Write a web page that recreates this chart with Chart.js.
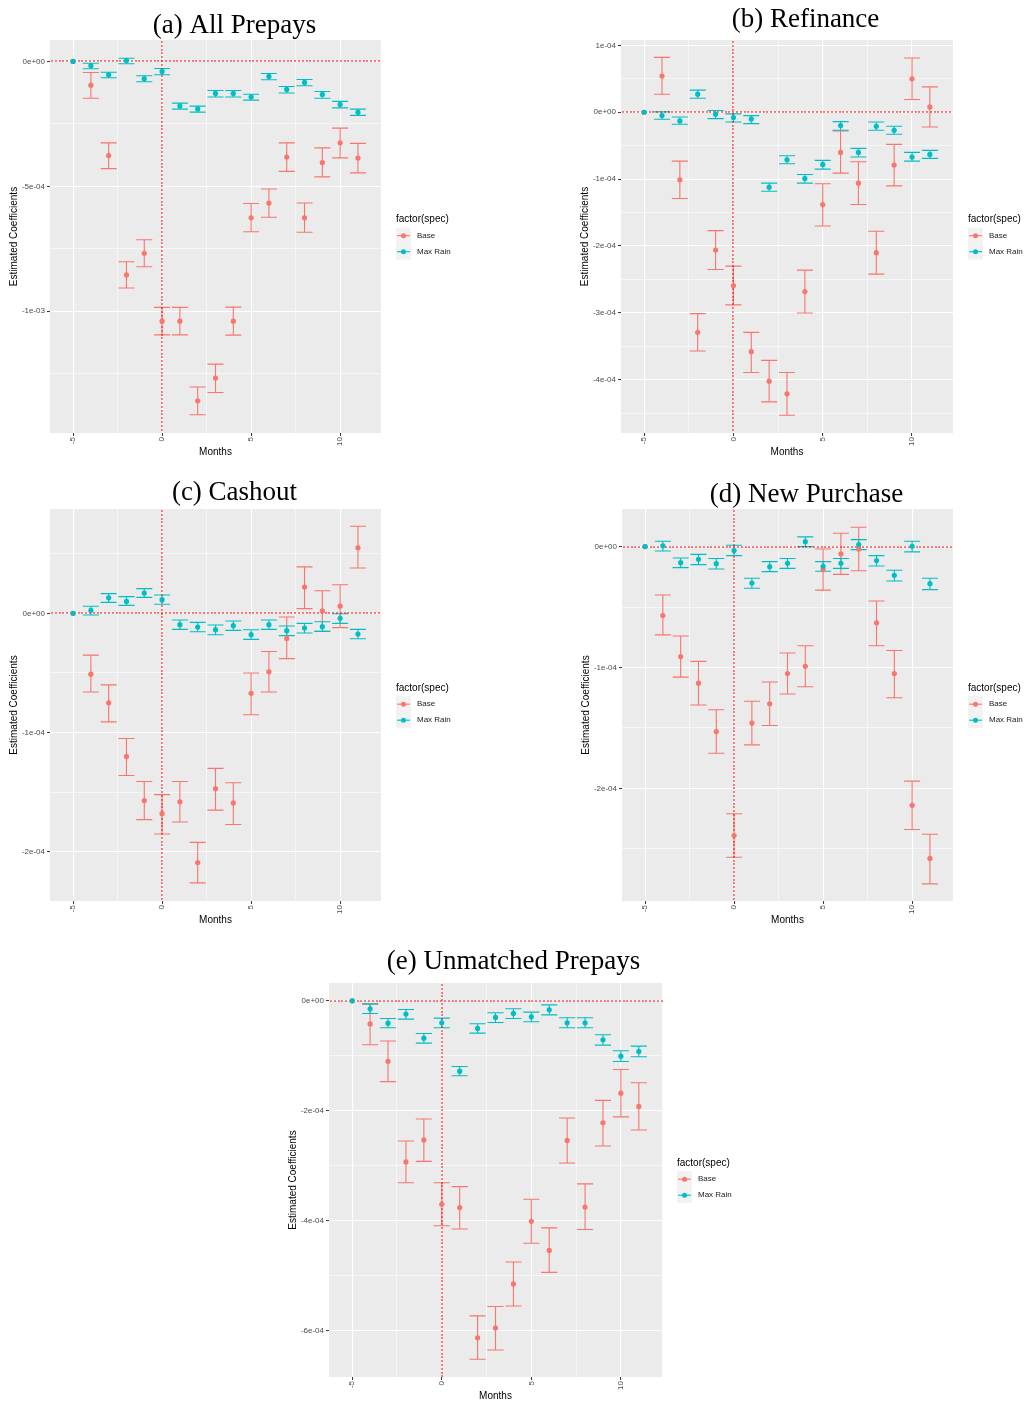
<!DOCTYPE html>
<html>
<head>
<meta charset="utf-8">
<title>Estimated coefficients by month</title>
<script src="https://cdn.jsdelivr.net/npm/chart.js@4.4.1/dist/chart.umd.min.js"></script>
<style>
  html, body { margin: 0; padding: 0; background: #fff; overflow: hidden; }
  body { width: 1026px; height: 1401px; position: relative; }
  canvas { position: absolute; }
</style>
</head>
<body>
<script>
// months relative to the event, shared by every panel
const months = [-5, -4, -3, -2, -1, 0, 1, 2, 3, 4, 5, 6, 7, 8, 9, 10, 11];
const seriesNames = ['Base', 'Max Rain'];
const xTicks = [-5, 0, 5, 10];
const xTickLabels = ['-5', '0', '5', '10'];
const xMinorTicks = [-2.5, 2.5, 7.5];

// (a) All Prepays
const allBase   = [0, -0.95e-4, -3.77e-4, -8.55e-4, -7.68e-4, -10.40e-4, -10.40e-4, -13.59e-4, -12.68e-4, -10.40e-4, -6.26e-4, -5.67e-4, -3.83e-4, -6.26e-4, -4.05e-4, -3.26e-4, -3.87e-4];
const allBaseLo = [null, -1.47e-4, -4.29e-4, -9.07e-4, -8.22e-4, -10.95e-4, -10.95e-4, -14.15e-4, -13.26e-4, -10.96e-4, -6.82e-4, -6.24e-4, -4.40e-4, -6.84e-4, -4.62e-4, -3.86e-4, -4.46e-4];
const allBaseHi = [null, -0.44e-4, -3.26e-4, -8.02e-4, -7.14e-4, -9.85e-4, -9.85e-4, -13.04e-4, -12.12e-4, -9.84e-4, -5.69e-4, -5.11e-4, -3.26e-4, -5.67e-4, -3.46e-4, -2.67e-4, -3.28e-4];
const allRain   = [0, -0.17e-4, -0.53e-4, 0.04e-4, -0.69e-4, -0.40e-4, -1.78e-4, -1.90e-4, -1.28e-4, -1.28e-4, -1.42e-4, -0.60e-4, -1.12e-4, -0.84e-4, -1.32e-4, -1.72e-4, -2.03e-4];
const allRainLo = [null, -0.29e-4, -0.65e-4, -0.09e-4, -0.81e-4, -0.53e-4, -1.91e-4, -2.03e-4, -1.42e-4, -1.42e-4, -1.55e-4, -0.73e-4, -1.26e-4, -0.97e-4, -1.47e-4, -1.86e-4, -2.16e-4];
const allRainHi = [null, -0.07e-4, -0.43e-4, 0.13e-4, -0.57e-4, -0.28e-4, -1.67e-4, -1.79e-4, -1.16e-4, -1.16e-4, -1.31e-4, -0.48e-4, -1.00e-4, -0.72e-4, -1.20e-4, -1.60e-4, -1.91e-4];
const allYTicks = [0, -5e-4, -1e-3];
const allYLabels = ['0e+00', '-5e-04', '-1e-03'];
const allYMinor = [-2.5e-4, -7.5e-4, -1.25e-3];

// (b) Refinance
const refBase   = [0, 0.54e-4, -1.01e-4, -3.29e-4, -2.06e-4, -2.59e-4, -3.58e-4, -4.02e-4, -4.21e-4, -2.68e-4, -1.38e-4, -0.60e-4, -1.06e-4, -2.10e-4, -0.79e-4, 0.50e-4, 0.08e-4];
const refBaseLo = [null, 0.27e-4, -1.29e-4, -3.57e-4, -2.35e-4, -2.88e-4, -3.89e-4, -4.33e-4, -4.53e-4, -3.00e-4, -1.70e-4, -0.91e-4, -1.38e-4, -2.42e-4, -1.10e-4, 0.19e-4, -0.22e-4];
const refBaseHi = [null, 0.82e-4, -0.73e-4, -3.01e-4, -1.77e-4, -2.30e-4, -3.29e-4, -3.71e-4, -3.89e-4, -2.36e-4, -1.07e-4, -0.28e-4, -0.74e-4, -1.78e-4, -0.48e-4, 0.81e-4, 0.38e-4];
const refRain   = [0, -0.05e-4, -0.13e-4, 0.27e-4, -0.03e-4, -0.08e-4, -0.10e-4, -1.12e-4, -0.71e-4, -0.99e-4, -0.78e-4, -0.20e-4, -0.60e-4, -0.21e-4, -0.27e-4, -0.67e-4, -0.63e-4];
const refRainLo = [null, -0.105e-4, -0.18e-4, 0.21e-4, -0.095e-4, -0.145e-4, -0.17e-4, -1.18e-4, -0.77e-4, -1.06e-4, -0.85e-4, -0.27e-4, -0.67e-4, -0.27e-4, -0.33e-4, -0.73e-4, -0.69e-4];
const refRainHi = [null, 0.005e-4, -0.07e-4, 0.33e-4, 0.025e-4, -0.025e-4, -0.05e-4, -1.06e-4, -0.65e-4, -0.93e-4, -0.72e-4, -0.14e-4, -0.54e-4, -0.145e-4, -0.21e-4, -0.60e-4, -0.57e-4];
const refYTicks = [1e-4, 0, -1e-4, -2e-4, -3e-4, -4e-4];
const refYLabels = ['1e-04', '0e+00', '-1e-04', '-2e-04', '-3e-04', '-4e-04'];
const refYMinor = [0.5e-4, -0.5e-4, -1.5e-4, -2.5e-4, -3.5e-4, -4.5e-4];

// (c) Cashout
const cashBase   = [0, -0.51e-4, -0.75e-4, -1.20e-4, -1.57e-4, -1.68e-4, -1.58e-4, -2.09e-4, -1.47e-4, -1.59e-4, -0.67e-4, -0.49e-4, -0.21e-4, 0.22e-4, 0.02e-4, 0.06e-4, 0.55e-4];
const cashBaseLo = [null, -0.66e-4, -0.91e-4, -1.36e-4, -1.73e-4, -1.85e-4, -1.75e-4, -2.26e-4, -1.65e-4, -1.77e-4, -0.85e-4, -0.66e-4, -0.38e-4, 0.04e-4, -0.15e-4, -0.12e-4, 0.38e-4];
const cashBaseHi = [null, -0.35e-4, -0.60e-4, -1.05e-4, -1.41e-4, -1.52e-4, -1.41e-4, -1.92e-4, -1.30e-4, -1.42e-4, -0.50e-4, -0.32e-4, -0.03e-4, 0.39e-4, 0.19e-4, 0.24e-4, 0.73e-4];
const cashRain   = [0, 0.025e-4, 0.13e-4, 0.10e-4, 0.17e-4, 0.115e-4, -0.095e-4, -0.115e-4, -0.137e-4, -0.103e-4, -0.179e-4, -0.095e-4, -0.145e-4, -0.123e-4, -0.112e-4, -0.042e-4, -0.173e-4];
const cashRainLo = [null, -0.014e-4, 0.092e-4, 0.067e-4, 0.134e-4, 0.076e-4, -0.134e-4, -0.154e-4, -0.179e-4, -0.143e-4, -0.218e-4, -0.134e-4, -0.187e-4, -0.165e-4, -0.151e-4, -0.084e-4, -0.213e-4];
const cashRainHi = [null, 0.059e-4, 0.165e-4, 0.14e-4, 0.207e-4, 0.154e-4, -0.056e-4, -0.076e-4, -0.098e-4, -0.064e-4, -0.137e-4, -0.056e-4, -0.106e-4, -0.084e-4, -0.07e-4, -0.003e-4, -0.134e-4];
const cashYTicks = [0, -1e-4, -2e-4];
const cashYLabels = ['0e+00', '-1e-04', '-2e-04'];
const cashYMinor = [0.5e-4, -0.5e-4, -1.5e-4];

// (d) New Purchase
const newBase   = [0, -0.57e-4, -0.91e-4, -1.13e-4, -1.53e-4, -2.39e-4, -1.46e-4, -1.30e-4, -1.05e-4, -0.99e-4, -0.19e-4, -0.06e-4, -0.02e-4, -0.63e-4, -1.05e-4, -2.14e-4, -2.58e-4];
const newBaseLo = [null, -0.73e-4, -1.08e-4, -1.31e-4, -1.71e-4, -2.57e-4, -1.64e-4, -1.48e-4, -1.22e-4, -1.16e-4, -0.36e-4, -0.23e-4, -0.20e-4, -0.82e-4, -1.25e-4, -2.34e-4, -2.79e-4];
const newBaseHi = [null, -0.40e-4, -0.74e-4, -0.95e-4, -1.35e-4, -2.21e-4, -1.28e-4, -1.12e-4, -0.88e-4, -0.82e-4, -0.02e-4, 0.11e-4, 0.16e-4, -0.45e-4, -0.86e-4, -1.94e-4, -2.38e-4];
const newRain   = [0, 0.006e-4, -0.133e-4, -0.105e-4, -0.141e-4, -0.033e-4, -0.301e-4, -0.166e-4, -0.138e-4, 0.041e-4, -0.163e-4, -0.138e-4, 0.017e-4, -0.116e-4, -0.238e-4, 0.003e-4, -0.307e-4];
const newRainLo = [null, -0.036e-4, -0.174e-4, -0.149e-4, -0.185e-4, -0.075e-4, -0.345e-4, -0.207e-4, -0.18e-4, 0, -0.204e-4, -0.18e-4, -0.025e-4, -0.16e-4, -0.285e-4, -0.044e-4, -0.356e-4];
const newRainHi = [null, 0.044e-4, -0.094e-4, -0.064e-4, -0.099e-4, 0.011e-4, -0.262e-4, -0.124e-4, -0.099e-4, 0.08e-4, -0.124e-4, -0.099e-4, 0.058e-4, -0.075e-4, -0.196e-4, 0.044e-4, -0.262e-4];
const newYTicks = [0, -1e-4, -2e-4];
const newYLabels = ['0e+00', '-1e-04', '-2e-04'];
const newYMinor = [-0.5e-4, -1.5e-4, -2.5e-4];

// (e) Unmatched Prepays
const unmBase   = [0, -0.42e-4, -1.10e-4, -2.93e-4, -2.53e-4, -3.70e-4, -3.76e-4, -6.13e-4, -5.95e-4, -5.15e-4, -4.01e-4, -4.54e-4, -2.54e-4, -3.75e-4, -2.22e-4, -1.68e-4, -1.92e-4];
const unmBaseLo = [null, -0.80e-4, -1.47e-4, -3.31e-4, -2.92e-4, -4.09e-4, -4.15e-4, -6.52e-4, -6.35e-4, -5.55e-4, -4.41e-4, -4.94e-4, -2.95e-4, -4.16e-4, -2.64e-4, -2.11e-4, -2.35e-4];
const unmBaseHi = [null, -0.06e-4, -0.73e-4, -2.55e-4, -2.15e-4, -3.31e-4, -3.38e-4, -5.73e-4, -5.56e-4, -4.75e-4, -3.61e-4, -4.13e-4, -2.13e-4, -3.33e-4, -1.81e-4, -1.25e-4, -1.49e-4];
const unmRain   = [0, -0.145e-4, -0.406e-4, -0.242e-4, -0.679e-4, -0.40e-4, -1.279e-4, -0.503e-4, -0.303e-4, -0.23e-4, -0.291e-4, -0.164e-4, -0.40e-4, -0.40e-4, -0.709e-4, -1.006e-4, -0.921e-4];
const unmRainLo = [null, -0.23e-4, -0.49e-4, -0.333e-4, -0.77e-4, -0.49e-4, -1.364e-4, -0.588e-4, -0.394e-4, -0.321e-4, -0.382e-4, -0.255e-4, -0.49e-4, -0.49e-4, -0.806e-4, -1.103e-4, -1.018e-4];
const unmRainHi = [null, -0.055e-4, -0.321e-4, -0.158e-4, -0.594e-4, -0.315e-4, -1.194e-4, -0.418e-4, -0.218e-4, -0.145e-4, -0.206e-4, -0.073e-4, -0.309e-4, -0.309e-4, -0.618e-4, -0.909e-4, -0.824e-4];
const unmYTicks = [0, -2e-4, -4e-4, -6e-4];
const unmYLabels = ['0e+00', '-2e-04', '-4e-04', '-6e-04'];
const unmYMinor = [-1e-4, -3e-4, -5e-4];

const RED = '#F8766D';
const TEAL = '#00BFC4';
const CAP = 0.45; // half width of the error bar caps, in months

Chart.defaults.font.family = '"Liberation Sans", Arial, sans-serif';

function tickList(major, labels, minor) {
    const list = major.map((v, i) => ({ value: v, lbl: labels[i] }))
        .concat(minor.map(v => ({ value: v, lbl: '', minor: true })));
    return list.sort((p, q) => p.value - q.value);
}

const gridOpts = {
    color: '#FFFFFF',
    lineWidth: c => (c.tick && c.tick.minor ? 0.55 : 1.1),
    tickColor: c => (c.tick && c.tick.minor ? 'rgba(0,0,0,0)' : '#333333'),
    tickLength: 3,
    tickWidth: 1
};

const ggPlugin = {
    id: 'gg',
    beforeDraw(chart) {
        const { ctx, chartArea: a } = chart;
        ctx.save();
        ctx.fillStyle = '#EBEBEB';
        ctx.fillRect(a.left, a.top, a.width, a.height);
        ctx.restore();
    },
    beforeDatasetsDraw(chart) {
        const { ctx, chartArea: a, scales: { x, y } } = chart;
        ctx.save();
        // error bars, Base first so Max Rain sits on top
        chart.data.datasets.forEach(ds => {
            ctx.strokeStyle = ds.borderColor;
            ctx.lineWidth = 1.1;
            ctx.beginPath();
            ds.data.forEach((p, i) => {
                if (ds.lo[i] === null) return;
                const xl = x.getPixelForValue(p.x - CAP);
                const xr = x.getPixelForValue(p.x + CAP);
                const xc = x.getPixelForValue(p.x);
                const yl = y.getPixelForValue(ds.lo[i]);
                const yh = y.getPixelForValue(ds.hi[i]);
                ctx.moveTo(xl, yh); ctx.lineTo(xr, yh);
                ctx.moveTo(xc, yh); ctx.lineTo(xc, yl);
                ctx.moveTo(xl, yl); ctx.lineTo(xr, yl);
            });
            ctx.stroke();
        });
        // dotted red reference lines at zero, as whole-pixel dots
        const y0 = Math.round(y.getPixelForValue(0)) - 1;
        const x0 = Math.round(x.getPixelForValue(0)) - 1;
        ctx.fillStyle = 'rgba(255, 0, 0, 0.5)';
        for (let px = a.left + 1; px < a.right - 1; px += 3.8) {
            ctx.fillRect(Math.round(px), y0, 2, 2);
        }
        for (let py = a.top + 1; py < a.bottom - 1; py += 3.8) {
            ctx.fillRect(x0, Math.round(py), 2, 2);
        }
        ctx.restore();
    },
    afterDraw(chart, args, opts) {
        const { ctx, chartArea: a } = chart;
        ctx.save();
        ctx.fillStyle = '#000';
        ctx.textBaseline = 'middle';
        ctx.textAlign = 'center';
        ctx.font = '27px "Liberation Serif", serif';
        ctx.fillText(opts.title, 234.5, opts.titleY);

        // legend
        const lx = a.right + 15;
        const mid = (a.top + a.bottom) / 2;
        ctx.textAlign = 'left';
        ctx.font = '10px "Liberation Sans", Arial, sans-serif';
        ctx.fillText('factor(spec)', lx, mid - 17);
        chart.data.datasets.forEach((ds, i) => {
            const cy = mid - 0.8 + i * 16;
            ctx.fillStyle = '#F2F2F2';
            ctx.fillRect(lx, cy - 8, 15, 16);
            ctx.strokeStyle = ds.borderColor;
            ctx.lineWidth = 1.1;
            ctx.beginPath();
            ctx.moveTo(lx + 1, cy); ctx.lineTo(lx + 14, cy);
            ctx.stroke();
            ctx.fillStyle = ds.borderColor;
            ctx.beginPath();
            ctx.arc(lx + 7.5, cy, 2.5, 0, Math.PI * 2);
            ctx.fill();
            ctx.fillStyle = '#1A1A1A';
            ctx.font = '8px "Liberation Sans", Arial, sans-serif';
            ctx.fillText(ds.label, lx + 21, cy);
        });
        ctx.restore();
    }
};

function drawPanel(p) {
    const canvas = document.createElement('canvas');
    const w = p.right - p.left, h = p.bottom - p.top;
    canvas.width = 50 + w + 90;
    canvas.height = 40 + h + 30;
    canvas.style.left = (p.left - 50) + 'px';
    canvas.style.top = (p.top - 40) + 'px';
    document.body.appendChild(canvas);

    const series = [
        { name: seriesNames[0], color: RED, v: p.base, lo: p.baseLo, hi: p.baseHi, order: 2 },
        { name: seriesNames[1], color: TEAL, v: p.rain, lo: p.rainLo, hi: p.rainHi, order: 1 }
    ];

    new Chart(canvas, {
        type: 'scatter',
        data: {
            datasets: series.map(s => ({
                label: s.name,
                order: s.order,
                data: months.map((m, i) => ({ x: m, y: s.v[i] })),
                lo: s.lo,
                hi: s.hi,
                backgroundColor: s.color,
                borderColor: s.color,
                pointRadius: 2.6,
                pointBorderWidth: 0,
                pointHoverRadius: 2.6
            }))
        },
        options: {
            responsive: false,
            animation: false,
            devicePixelRatio: 1,
            events: [],
            layout: { padding: { left: 0, top: 40, right: 90, bottom: 0 } },
            plugins: {
                legend: { display: false },
                tooltip: { enabled: false },
                gg: { title: p.title, titleY: p.titleY }
            },
            scales: {
                x: {
                    type: 'linear',
                    min: -6.295,
                    max: 12.295,
                    afterBuildTicks: s => { s.ticks = tickList(xTicks, xTickLabels, xMinorTicks); },
                    afterFit: s => { s.height = 30; },
                    ticks: {
                        autoSkip: false, minRotation: 90, maxRotation: 90, padding: 1,
                        color: '#4D4D4D', font: { size: 8 },
                        callback: (v, i, t) => t[i].lbl
                    },
                    grid: gridOpts,
                    border: { display: false },
                    title: { display: true, text: 'Months', color: '#000', font: { size: 10 }, padding: { top: 0, bottom: 4.5 } }
                },
                y: {
                    type: 'linear',
                    min: p.yMin,
                    max: p.yMax,
                    afterBuildTicks: s => { s.ticks = tickList(p.yTicks, p.yLabels, p.yMinor); },
                    afterFit: s => { s.width = 50; },
                    ticks: {
                        autoSkip: false, padding: 2,
                        color: '#4D4D4D', font: { size: 8 },
                        callback: (v, i, t) => t[i].lbl
                    },
                    grid: gridOpts,
                    border: { display: false },
                    title: { display: true, text: 'Estimated Coefficients', color: '#000', font: { size: 10 }, padding: { top: 8.5, bottom: 0 } }
                }
            }
        },
        plugins: [ggPlugin]
    });
}

drawPanel({ title: '(a) All Prepays', titleY: 25.5, left: 50, top: 40, right: 381, bottom: 433,
    yMin: -14.88e-4, yMax: 0.86e-4, yTicks: allYTicks, yLabels: allYLabels, yMinor: allYMinor,
    base: allBase, baseLo: allBaseLo, baseHi: allBaseHi, rain: allRain, rainLo: allRainLo, rainHi: allRainHi });
drawPanel({ title: '(b) Refinance', titleY: 20, left: 621, top: 40, right: 953, bottom: 433,
    yMin: -4.795e-4, yMax: 1.08e-4, yTicks: refYTicks, yLabels: refYLabels, yMinor: refYMinor,
    base: refBase, baseLo: refBaseLo, baseHi: refBaseHi, rain: refRain, rainLo: refRainLo, rainHi: refRainHi });
drawPanel({ title: '(c) Cashout', titleY: 24.3, left: 50, top: 509, right: 381, bottom: 901,
    yMin: -2.412e-4, yMax: 0.875e-4, yTicks: cashYTicks, yLabels: cashYLabels, yMinor: cashYMinor,
    base: cashBase, baseLo: cashBaseLo, baseHi: cashBaseHi, rain: cashRain, rainLo: cashRainLo, rainHi: cashRainHi });
drawPanel({ title: '(d) New Purchase', titleY: 26, left: 622, top: 509, right: 953, bottom: 901,
    yMin: -2.932e-4, yMax: 0.311e-4, yTicks: newYTicks, yLabels: newYLabels, yMinor: newYMinor,
    base: newBase, baseLo: newBaseLo, baseHi: newBaseHi, rain: newRain, rainLo: newRainLo, rainHi: newRainHi });
drawPanel({ title: '(e) Unmatched Prepays', titleY: 18.7, left: 329, top: 983, right: 662, bottom: 1377,
    yMin: -6.842e-4, yMax: 0.324e-4, yTicks: unmYTicks, yLabels: unmYLabels, yMinor: unmYMinor,
    base: unmBase, baseLo: unmBaseLo, baseHi: unmBaseHi, rain: unmRain, rainLo: unmRainLo, rainHi: unmRainHi });
</script>
</body>
</html>
